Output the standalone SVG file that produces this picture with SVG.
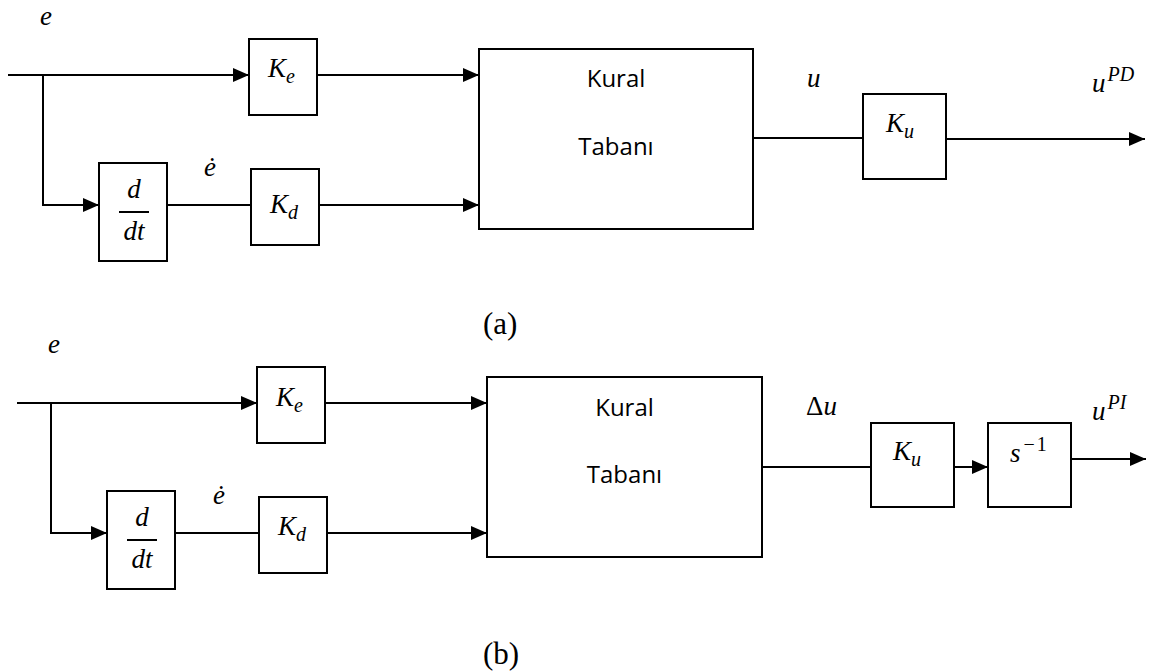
<svg xmlns="http://www.w3.org/2000/svg" width="1152" height="671" viewBox="0 0 1152 671">
  <style>
    .blk { fill: #ffffff; stroke: #000000; stroke-width: 2; }
    .wire { fill: none; stroke: #000000; stroke-width: 2; }
    .math { font-family: "Liberation Serif", "DejaVu Serif", serif; font-style: italic; font-size: 27px; fill: #000000; }
    .sub { font-size: 20px; }
    .up { font-style: normal; }
    .lbl { font-family: "Open Sans", "Noto Sans", sans-serif; font-size: 24px; fill: #000000; text-anchor: middle; }
    .cap { font-family: "Liberation Serif", serif; font-size: 31px; fill: #000000; }
  </style>
  <defs>
    <marker id="arrow" markerUnits="userSpaceOnUse" markerWidth="16" markerHeight="14" viewBox="0 0 16 14" refX="16" refY="7" orient="auto">
      <path d="M0,0 L16,7 L0,14 z" fill="#000000"/>
    </marker>
  </defs>

  <!-- (a) fuzzy PD controller -->
  <g id="connectors-a">
    <path class="wire" d="M8,75 H249" marker-end="url(#arrow)"/>
    <path class="wire" d="M43,75 V205 H99" marker-end="url(#arrow)"/>
    <path class="wire" d="M317,75 H479" marker-end="url(#arrow)"/>
    <path class="wire" d="M167,205 H251"/>
    <path class="wire" d="M319,205 H479" marker-end="url(#arrow)"/>
    <path class="wire" d="M753,138 H863"/>
    <path class="wire" d="M946,139 H1145" marker-end="url(#arrow)"/>
  </g>
  <g id="a-labels">
    <text class="math" x="40" y="25">e</text>
    <text class="math" x="204" y="176">ė</text>
    <text class="math" x="807" y="87">u</text>
    <text class="math" x="1092" y="92">u<tspan class="sub" dx="2" dy="-11">PD</tspan></text>
  </g>
  <g id="a-Ke">
    <rect class="blk" x="249" y="39" width="68" height="76"/>
    <text class="math" x="268" y="77">K<tspan class="sub" dy="6">e</tspan></text>
  </g>
  <g id="a-ddt">
    <rect class="blk" x="99" y="163" width="68" height="98"/>
    <text class="math" x="134" y="198" text-anchor="middle">d</text>
    <line class="wire" x1="119" y1="212" x2="149" y2="212"/>
    <text class="math" x="134" y="240" text-anchor="middle">dt</text>
  </g>
  <g id="a-Kd">
    <rect class="blk" x="251" y="169" width="68" height="76"/>
    <text class="math" x="270" y="213">K<tspan class="sub" dy="6">d</tspan></text>
  </g>
  <g id="a-rulebase">
    <rect class="blk" x="479" y="49" width="274" height="180"/>
    <text class="lbl" x="616" y="87">Kural</text>
    <text class="lbl" x="616" y="155">Tabanı</text>
  </g>
  <g id="a-Ku">
    <rect class="blk" x="863" y="94" width="83" height="85"/>
    <text class="math" x="886" y="132">K<tspan class="sub" dy="6">u</tspan></text>
  </g>
  <text class="cap" x="483" y="334">(a)</text>

  <!-- (b) fuzzy PI controller -->
  <g id="connectors-b">
    <path class="wire" d="M17,403 H257" marker-end="url(#arrow)"/>
    <path class="wire" d="M51,403 V533 H107" marker-end="url(#arrow)"/>
    <path class="wire" d="M325,403 H487" marker-end="url(#arrow)"/>
    <path class="wire" d="M175,533 H259"/>
    <path class="wire" d="M327,533 H487" marker-end="url(#arrow)"/>
    <path class="wire" d="M762,467 H871"/>
    <path class="wire" d="M954,467 H988" marker-end="url(#arrow)"/>
    <path class="wire" d="M1071,459 H1146" marker-end="url(#arrow)"/>
  </g>
  <g id="b-labels">
    <text class="math" x="48" y="353">e</text>
    <text class="math" x="213" y="504">ė</text>
    <text class="math" x="806" y="415"><tspan class="up">Δ</tspan>u</text>
    <text class="math" x="1092" y="420">u<tspan class="sub" dx="2" dy="-11">PI</tspan></text>
  </g>
  <g id="b-Ke">
    <rect class="blk" x="257" y="367" width="68" height="76"/>
    <text class="math" x="276" y="406">K<tspan class="sub" dy="6">e</tspan></text>
  </g>
  <g id="b-ddt">
    <rect class="blk" x="107" y="491" width="68" height="98"/>
    <text class="math" x="142" y="526" text-anchor="middle">d</text>
    <line class="wire" x1="127" y1="540" x2="157" y2="540"/>
    <text class="math" x="142" y="568" text-anchor="middle">dt</text>
  </g>
  <g id="b-Kd">
    <rect class="blk" x="259" y="497" width="68" height="76"/>
    <text class="math" x="278" y="535">K<tspan class="sub" dy="6">d</tspan></text>
  </g>
  <g id="b-rulebase">
    <rect class="blk" x="487" y="377" width="275" height="180"/>
    <text class="lbl" x="624.5" y="416">Kural</text>
    <text class="lbl" x="624.5" y="483">Tabanı</text>
  </g>
  <g id="b-Ku">
    <rect class="blk" x="871" y="423" width="83" height="84"/>
    <text class="math" x="893" y="460">K<tspan class="sub" dy="6">u</tspan></text>
  </g>
  <g id="b-integrator">
    <rect class="blk" x="988" y="423" width="83" height="84"/>
    <text class="math" x="1010" y="462">s<tspan class="sub up" dx="3" dy="-11">−</tspan><tspan class="sub up" dx="2">1</tspan></text>
  </g>
  <text class="cap" x="483" y="664">(b)</text>
</svg>
